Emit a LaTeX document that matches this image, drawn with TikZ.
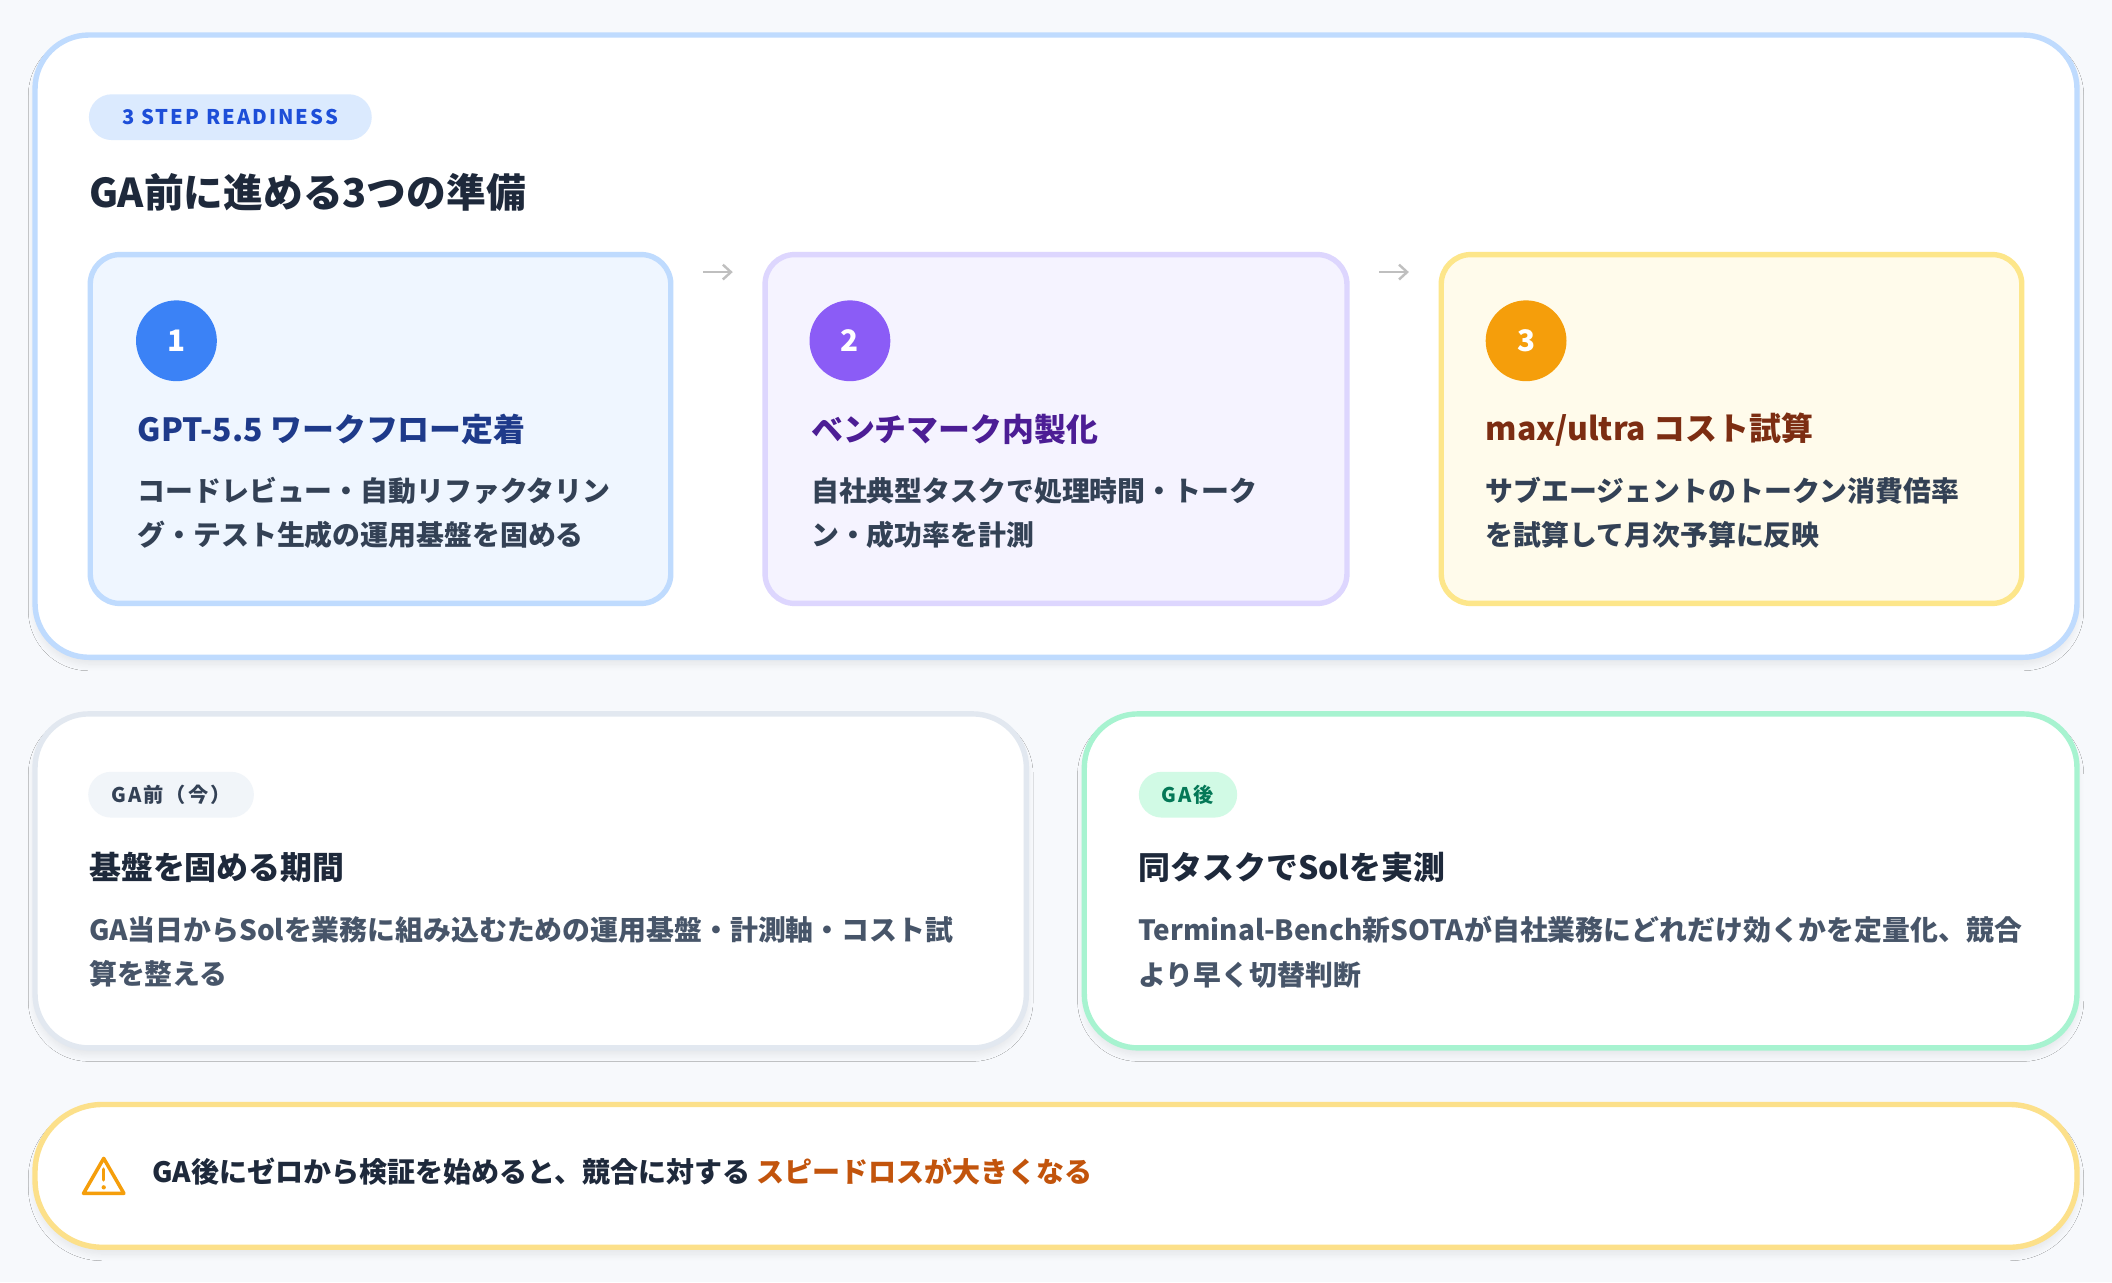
\documentclass[tikz,border=0pt]{standalone}
\usepackage{fontspec}
\setmainfont{Noto Sans CJK JP}
\usetikzlibrary{shadows.blur,arrows.meta}
\definecolor{bg}{HTML}{F7F9FC}
\definecolor{ink}{HTML}{1E293B}
\definecolor{body}{HTML}{334155}
\definecolor{slate}{HTML}{475569}
\definecolor{topb}{HTML}{BFDBFE}
\definecolor{badgeA}{HTML}{DBEAFE}\definecolor{badgeAt}{HTML}{1D4ED8}
\definecolor{b1}{HTML}{BFDBFE}\definecolor{f1}{HTML}{EFF6FF}
\definecolor{b2}{HTML}{DDD6FE}\definecolor{f2}{HTML}{F5F3FF}
\definecolor{b3}{HTML}{FDE68A}\definecolor{f3}{HTML}{FFFBEB}
\definecolor{c1}{HTML}{3B82F6}\definecolor{c2}{HTML}{8B5CF6}\definecolor{c3}{HTML}{F59E0B}
\definecolor{h1c}{HTML}{1E3A8A}\definecolor{h2c}{HTML}{4C1D95}\definecolor{h3c}{HTML}{7C2D12}
\definecolor{greyb}{HTML}{E2E8F0}\definecolor{greyf}{HTML}{F1F5F9}
\definecolor{greenb}{HTML}{A7F3D0}\definecolor{greenf}{HTML}{D1FAE5}\definecolor{greent}{HTML}{047857}
\definecolor{warnb}{HTML}{FCE08A}\definecolor{warnt}{HTML}{C2540C}
\tikzset{
 x=1pt,y=-1pt,
 card/.style={draw=#1,line width=4pt,fill=white,rounded corners=40pt,blur shadow={shadow blur steps=10,shadow blur radius=5pt,shadow xshift=0pt,shadow yshift=-5pt,shadow opacity=8}},
 stepcard/.style 2 args={draw=#1,fill=#2,line width=4pt,rounded corners=22pt},
 num/.style={circle,fill=#1,minimum size=60pt,inner sep=0pt,text=white,font=\bfseries\fontsize{22}{24}\selectfont},
 head/.style={anchor=west,inner sep=0pt,text=#1,font=\bfseries\fontsize{23.7}{26}\selectfont},
 txt/.style={anchor=north west,inner sep=0pt,align=left,text=body,font=\bfseries\fontsize{20.7}{33}\selectfont},
 badge/.style={rounded corners=17pt,fill=#1,minimum height=34pt,inner sep=0pt},
 btext/.style={text=#1,font=\bfseries\fontsize{15}{16}\selectfont\addfontfeature{LetterSpace=10}},
 arr/.style={-{Straight Barb[length=6pt,width=11pt]},line width=1.8pt,draw=gray!50},
}
\begin{document}
\begin{tikzpicture}
\fill[bg] (0,0) rectangle (1568,952);
\useasboundingbox (0,0) rectangle (1568,952);
% top card
\draw[card=topb] (26,26) rectangle (1542,488);
\node[badge=badgeA,minimum width=210pt] (b1) at (171,87) {};
\node[btext=badgeAt] at (b1) {3 STEP READINESS};
\node[anchor=west,inner sep=0pt,text=ink,font=\bfseries\fontsize{29.5}{30}\selectfont] (title) at (66,143) {GA前に進める3つの準備};
% step cards
\draw[stepcard={b1}{f1}] (67,189) rectangle (498,448);
\draw[stepcard={b2}{f2}] (568,189) rectangle (1000,448);
\draw[stepcard={b3}{f3}] (1070,189) rectangle (1501,448);
\node[num=c1] (n1) at (131,253) {1};
\node[num=c2] (n2) at (631,253) {2};
\node[num=c3] (n3) at (1133,253) {3};
\node[head=h1c] (h1) at (102,319) {GPT-5.5 ワークフロー定着};
\node[head=h2c] (h2) at (602,319) {ベンチマーク内製化};
\node[head=h3c] (h3) at (1103,319) {max/ultra コスト試算};
\node[txt] (t1) at (102,354) {コードレビュー・自動リファクタリン\\グ・テスト生成の運用基盤を固める};
\node[txt] (t2) at (602,354) {自社典型タスクで処理時間・トーク\\ン・成功率を計測};
\node[txt] (t3) at (1103,354) {サブエージェントのトークン消費倍率\\を試算して月次予算に反映};
\coordinate (a1s) at (522,202); \coordinate (a1e) at (544,202);
\coordinate (a2s) at (1024,202); \coordinate (a2e) at (1046,202);
\draw[arr] (a1s) -- (a1e);
\draw[arr] (a2s) -- (a2e);
% bottom left
\draw[card=greyb] (26,530) rectangle (762,778);
\node[badge=greyf,minimum width=123pt] (b2) at (127,590) {};
\node[btext=body] at (b2) {GA前（今）};
\node[head=ink] (h4) at (66,644) {基盤を固める期間};
\node[txt,text=slate] (t4) at (66,680) {GA当日からSolを業務に組み込むための運用基盤・計測軸・コスト試\\算を整える};
% bottom right
\draw[card=greenb] (805,530) rectangle (1542,778);
\node[badge=greenf,minimum width=73pt] (b3) at (882,590) {};
\node[btext=greent] at (b3) {GA後};
\node[head=ink] (h5) at (845,644) {同タスクでSolを実測};
\node[txt,text=slate] (t5) at (845,680) {Terminal-Bench新SOTAが自社業務にどれだけ効くかを定量化、競合\\より早く切替判断};
% warning bar
\draw[card=warnb,rounded corners=50pt] (26,820) rectangle (1542,926);
\draw[line width=2.6pt,draw=c3,line join=round] (77,860) -- (92,886) -- (62,886) -- cycle;
\draw[line width=2.6pt,draw=c3,line cap=round] (77,868) -- (77,876);
\fill[c3] (77,881.5) circle (1.6pt);
\node[anchor=west,inner sep=0pt,text=ink,font=\bfseries\fontsize{20.8}{22}\selectfont] (w) at (113,870) {GA後にゼロから検証を始めると、競合に対する \textcolor{warnt}{スピードロスが大きくなる}};
\end{tikzpicture}
\end{document}
